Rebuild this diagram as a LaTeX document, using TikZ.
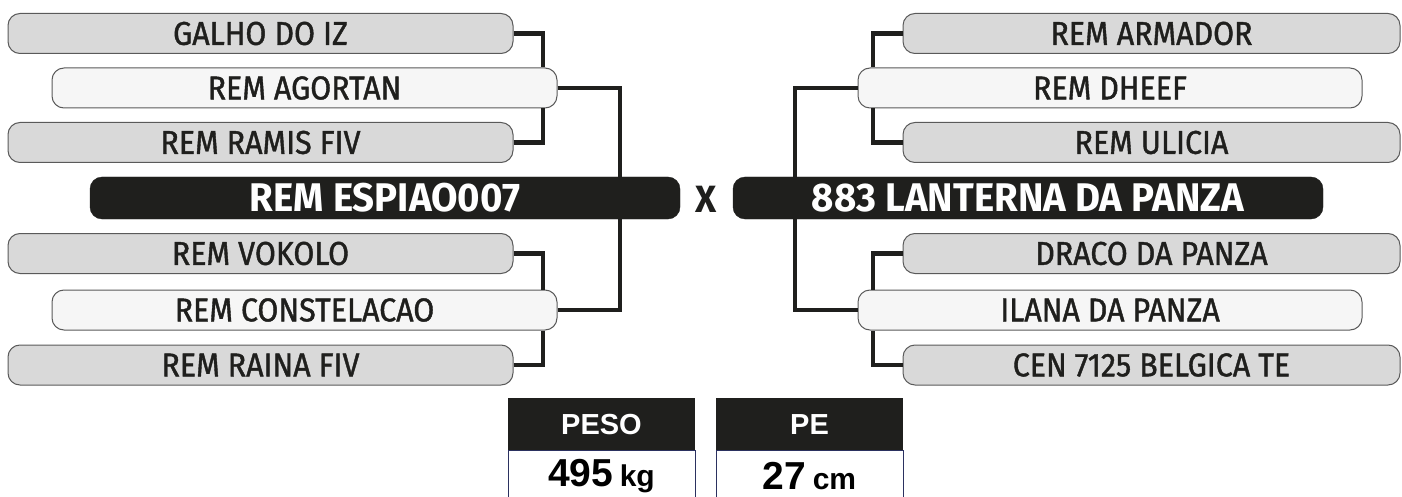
\documentclass[tikz,border=0pt]{standalone}
\usepackage{fontspec}
\setmainfont{Fira Sans}
\newfontfamily\lblfont[FakeStretch=0.92, FakeBold=1.2]{Fira Sans}
\newfontfamily\champfont[FakeStretch=0.96]{Fira Sans Bold}
\newfontfamily\numfont{Liberation Sans}
\usetikzlibrary{calc}
\definecolor{boxgray}{HTML}{D9D9D9}
\definecolor{boxlight}{HTML}{F6F6F6}
\definecolor{boxline}{HTML}{5A5A5A}
\definecolor{inkblack}{HTML}{1F1F1D}
\definecolor{navyline}{HTML}{2B3160}
\tikzset{
  x=1pt, y=-1pt,
  entry/.style={draw=boxline, line width=1pt, rounded corners=12pt, fill=boxgray,
    minimum height=40pt, inner sep=0pt, text=inkblack,
    font=\lblfont\fontsize{33}{34}\selectfont},
  sire/.style={entry, fill=boxlight},
  champ/.style={fill=inkblack, draw=inkblack, rounded corners=12pt, minimum height=42pt,
    inner sep=0pt, text=white, font=\champfont\fontsize{40}{42}\selectfont},
  conn/.style={draw=inkblack, line width=4.6pt},
  head/.style={fill=inkblack, inner sep=0pt, text=white, font=\numfont\bfseries\fontsize{29}{30}\selectfont},
  valbox/.style={draw=navyline, fill=white, line width=1pt, inner sep=0pt},
}
\begin{document}
\begin{tikzpicture}
\useasboundingbox (0,0) rectangle (1402,497);
% junction columns
\coordinate (jl) at (543,0);
\coordinate (jlm) at (620,0);
\coordinate (jr) at (873,0);
\coordinate (jrm) at (795,0);
% left side
\node[entry, minimum width=505pt] (g1) at (260.5,33.5) {GALHO DO IZ};
\node[sire, minimum width=505pt] (a1) at (304.5,88) {REM AGORTAN};
\node[entry, minimum width=505pt] (r1) at (260.5,142.5) {REM RAMIS FIV};
\node[champ, minimum width=590pt] (esp) at (385,198) {REM ESPIAO007};
\node[entry, minimum width=505pt] (v1) at (260.5,253.5) {REM VOKOLO};
\node[sire, minimum width=505pt] (c1) at (304.5,310) {REM CONSTELACAO};
\node[entry, minimum width=505pt] (rf) at (260.5,365) {REM RAINA FIV};
% right side
\node[entry, minimum width=497pt] (ar) at (1151.5,33.5) {REM ARMADOR};
\node[sire, minimum width=504pt] (dh) at (1110,88) {REM DHEEF};
\node[entry, minimum width=497pt] (ul) at (1151.5,142.5) {REM ULICIA};
\node[champ, minimum width=590pt] (lan) at (1028,198) {883 LANTERNA DA PANZA};
\node[entry, minimum width=497pt] (dr) at (1151.5,253.5) {DRACO DA PANZA};
\node[sire, minimum width=504pt] (il) at (1110,310) {ILANA DA PANZA};
\node[entry, minimum width=497pt] (be) at (1151.5,365) {CEN 7125 BELGICA TE};
% X
\node[text=inkblack, font=\champfont\fontsize{38}{40}\selectfont, inner sep=0pt] (vs) at (706.5,199) {X};
% left connectors
\draw[conn] (g1.east) -| (jl |- a1.north);
\draw[conn] (r1.east) -| (jl |- a1.south);
\draw[conn] (a1.east) -| (jlm |- esp.north);
\draw[conn] (v1.east) -| (jl |- c1.north);
\draw[conn] (rf.east) -| (jl |- c1.south);
\draw[conn] (c1.east) -| (jlm |- esp.south);
% right connectors
\draw[conn] (ar.west) -| (jr |- dh.north);
\draw[conn] (ul.west) -| (jr |- dh.south);
\draw[conn] (dh.west) -| (jrm |- lan.north);
\draw[conn] (dr.west) -| (jr |- il.north);
\draw[conn] (be.west) -| (jr |- il.south);
\draw[conn] (il.west) -| (jrm |- lan.south);
% stats
\node[valbox, minimum width=187pt, minimum height=52pt, anchor=north] (pv) at (601.5,450)
  {\raisebox{-3pt}{\numfont\bfseries\fontsize{39}{40}\selectfont 495\,\fontsize{30}{31}\selectfont kg}};
\node[head, minimum width=187pt, minimum height=52pt, anchor=north] (ph) at (601.5,398) {PESO};
\node[valbox, minimum width=187pt, minimum height=52pt, anchor=north] (ev) at (809.5,450)
  {\raisebox{-3pt}{\numfont\bfseries\fontsize{39}{40}\selectfont 27\,\fontsize{30}{31}\selectfont cm}};
\node[head, minimum width=187pt, minimum height=52pt, anchor=north] (eh) at (809.5,398) {PE};
\end{tikzpicture}
\end{document}
